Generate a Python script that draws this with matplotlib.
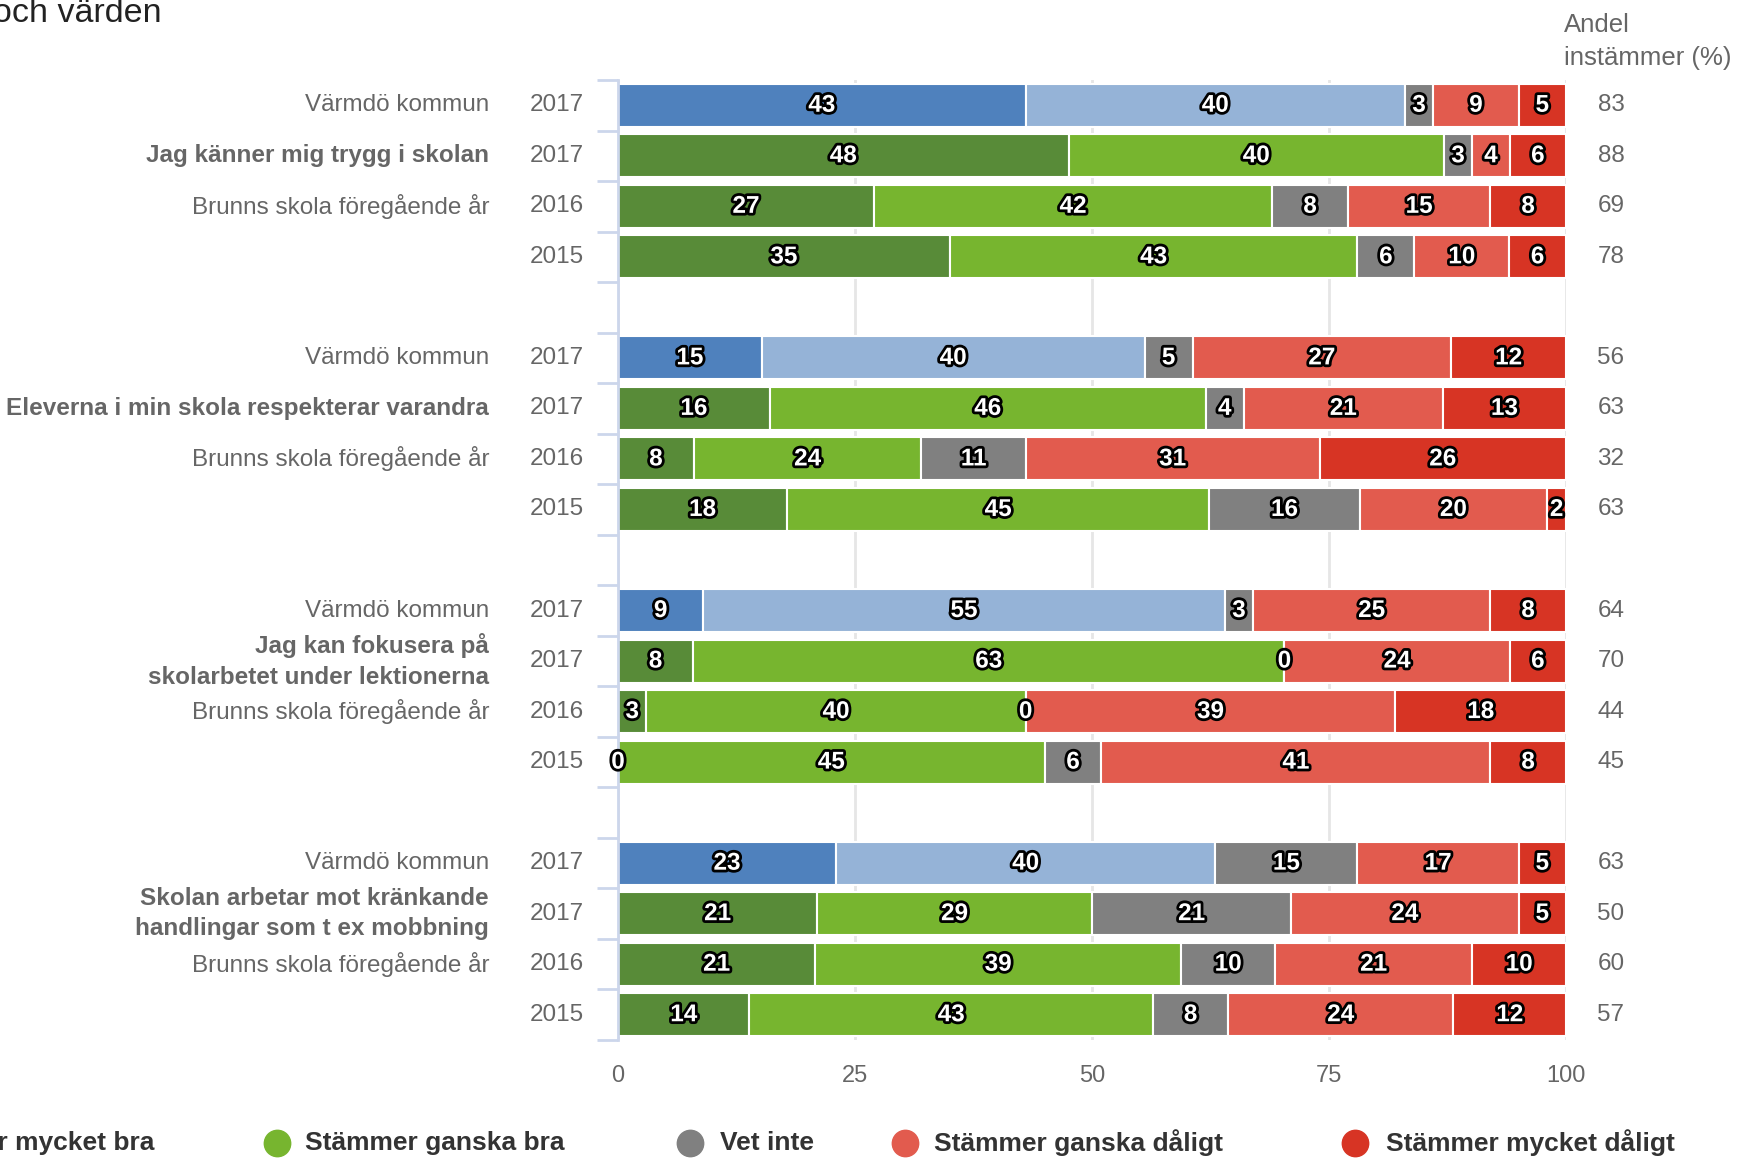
import numpy as np
import matplotlib
matplotlib.use("Agg")
import matplotlib.pyplot as plt
import matplotlib.patheffects as pe
from matplotlib.lines import Line2D
from matplotlib.transforms import blended_transform_factory

plt.rcParams['font.family'] = ['Liberation Sans', 'DejaVu Sans']

# ---- data ----
SERIES = ["Stämmer mycket bra", "Stämmer ganska bra", "Vet inte",
          "Stämmer ganska dåligt", "Stämmer mycket dåligt"]

QUESTIONS = [
    "Jag känner mig trygg i skolan",
    "Eleverna i min skola respekterar varandra",
    "Jag kan fokusera på\nskolarbetet under lektionerna",
    "Skolan arbetar mot kränkande\nhandlingar som t ex mobbning",
]
ROW_NAMES = ["Värmdö kommun", None, "Brunns skola föregående år", ""]
ROW_YEARS = ["2017", "2017", "2016", "2015"]

# rows per question: Värmdö 2017, Brunns 2017, 2016, 2015
VALUES = [
    [[43, 40, 3, 9, 5], [48, 40, 3, 4, 6], [27, 42, 8, 15, 8], [35, 43, 6, 10, 6]],
    [[15, 40, 5, 27, 12], [16, 46, 4, 21, 13], [8, 24, 11, 31, 26], [18, 45, 16, 20, 2]],
    [[9, 55, 3, 25, 8], [8, 63, 0, 24, 6], [3, 40, 0, 39, 18], [0, 45, 6, 41, 8]],
    [[23, 40, 15, 17, 5], [21, 29, 21, 24, 5], [21, 39, 10, 21, 10], [14, 43, 8, 24, 12]],
]
AGREE = [
    [83, 88, 69, 78],
    [56, 63, 32, 63],
    [64, 70, 44, 45],
    [63, 50, 60, 57],
]

COL_SCHOOL = ["#588b38", "#77b52f", "#808080", "#e25b4e", "#d73424"]
COL_KOMMUN = ["#4f81bd", "#95b3d7", "#808080", "#e25b4e", "#d73424"]

W, H = 1739, 1159
fig = plt.figure(figsize=(W / 100, H / 100), dpi=100)
ax = fig.add_axes([618 / W, 1 - 1040 / H, 948 / W, 960 / H])

n_slots = len(QUESTIONS) * 5 - 1
grey = "#666666"
tr_lab = blended_transform_factory(fig.transFigure, ax.transData)
outline = [pe.withStroke(linewidth=4, foreground="black")]

for g, q in enumerate(QUESTIONS):
    for r in range(4):
        y = g * 5 + r
        vals = np.array(VALUES[g][r], dtype=float)
        widths = vals / vals.sum() * 100
        cols = COL_KOMMUN if r == 0 else COL_SCHOOL
        left = 0.0
        for k in range(len(SERIES)):
            ax.barh(y, widths[k], left=left, height=0.85, color=cols[k],
                    edgecolor="white", linewidth=1.5, zorder=3)
            ax.text(left + widths[k] / 2, y, str(VALUES[g][r][k]), ha="center",
                    va="center", fontsize=17.5, fontweight="bold", color="white",
                    path_effects=outline, zorder=5)
            left += widths[k]
        name = q if ROW_NAMES[r] is None else ROW_NAMES[r]
        ax.text(489 / W, y, name, transform=tr_lab, ha="right", va="center",
                fontsize=17.5, color=grey,
                fontweight="bold" if ROW_NAMES[r] is None else "normal",
                linespacing=1.4)
        ax.text(584 / W, y, ROW_YEARS[r], transform=tr_lab, ha="right",
                va="center", fontsize=17.5, color=grey)
        ax.text(1611 / W, y, str(AGREE[g][r]), transform=tr_lab, ha="center",
                va="center", fontsize=17.5, color=grey)

ax.set_xlim(0, 100)
ax.set_ylim(n_slots - 0.5, -0.5)
ax.set_xticks([0, 25, 50, 75, 100])
ax.tick_params(axis="x", length=0, labelsize=17, labelcolor=grey, pad=18)
ax.set_yticks([])
ax.set_yticks(np.arange(-0.5, n_slots), minor=True)
ax.tick_params(axis="y", which="minor", length=15, width=2, color="#ccd6eb",
               labelleft=False)
ax.grid(axis="x", color="#e6e6e6", linewidth=2, zorder=0)
for s in ["top", "right", "bottom"]:
    ax.spines[s].set_visible(False)
ax.spines["left"].set_color("#ccd6eb")
ax.spines["left"].set_linewidth(2)
ax.spines["left"].set_zorder(4)

# header and cropped title
fig.text(1564 / W, 1 - 25 / H, "Andel", ha="left", va="center",
         fontsize=18.5, color=grey)
fig.text(1564 / W, 1 - 58 / H, "instämmer (%)", ha="left", va="center",
         fontsize=18.5, color=grey)
fig.text(-7 / W, 1 - 22 / H, "och värden", ha="left", va="baseline",
         fontsize=24.5, color="#222222")

# legend (first item cropped at the left edge)
leg_y = 1 - 1143 / H
leg_text_x = [154, 305, 720, 934, 1386]
leg_dot_x = [None, 277, 690, 905, 1355]
for k, name in enumerate(SERIES):
    if k == 0:
        fig.text(leg_text_x[k] / W, leg_y, name, ha="right", va="center",
                 fontsize=19, fontweight="bold", color="#333333")
        continue
    fig.add_artist(Line2D([leg_dot_x[k] / W], [leg_y], marker="o",
                          markersize=19, color=COL_SCHOOL[k],
                          transform=fig.transFigure))
    fig.text(leg_text_x[k] / W, leg_y, name, ha="left", va="center",
             fontsize=19, fontweight="bold", color="#333333")

fig.savefig("out.png", dpi=100)
